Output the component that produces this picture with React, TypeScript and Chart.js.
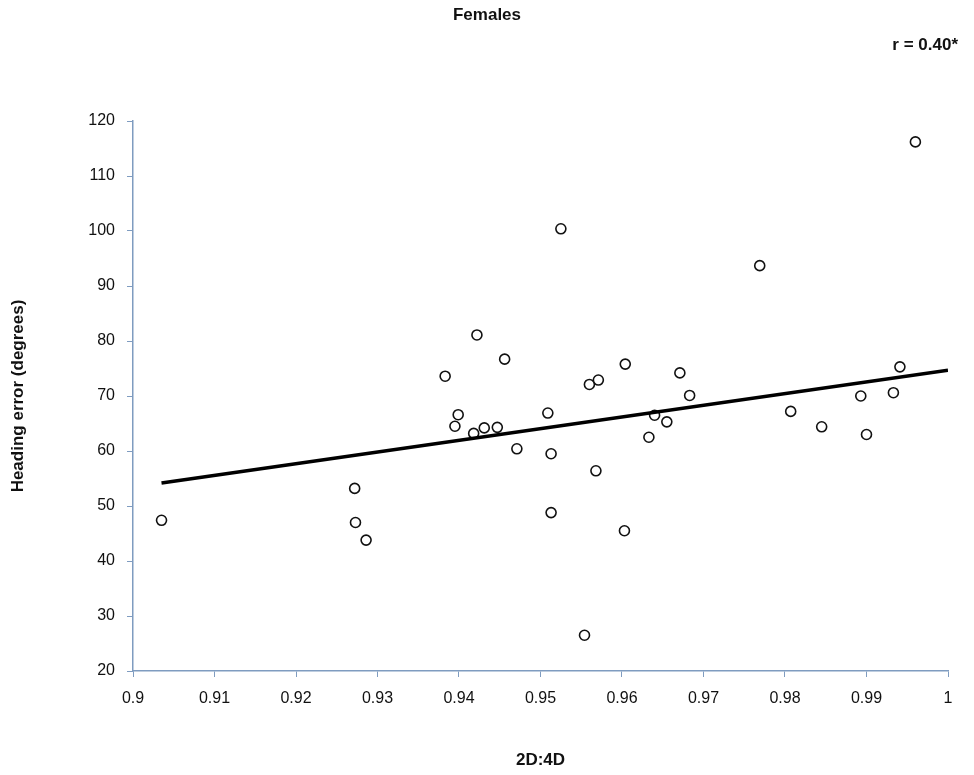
import { useEffect, useRef } from 'react';
import Chart from 'chart.js/auto';

const ratio = [0.9035, 0.9272, 0.9273, 0.9286, 0.9383, 0.9422, 0.9456, 0.9399, 0.9395, 0.9418, 0.9431, 0.9447, 0.9471,
    0.9525, 0.9769, 0.9509, 0.9513, 0.9513, 0.9554, 0.956, 0.9571, 0.9568, 0.9604, 0.9603, 0.964, 0.9633, 0.9655,
    0.9671, 0.9683, 0.9807, 0.9845, 0.9893, 0.99, 0.9933, 0.9941, 0.996];
const headingError = [47.4, 53.2, 47.0, 43.8, 73.6, 81.1, 76.7, 66.6, 64.5, 63.2, 64.2, 64.3, 60.4,
    100.4, 93.7, 66.9, 59.5, 48.8, 26.5, 72.1, 72.9, 56.4, 75.8, 45.5, 66.5, 62.5, 65.3,
    74.2, 70.1, 67.2, 64.4, 70.0, 63.0, 70.6, 75.3, 116.2];
const trendX = [0.9035, 1.0];
const trendY = [54.2, 74.7];

const axisColor = '#7f9cc0';
const font = 'Liberation Sans, Arial, sans-serif';

const App = () => {
    const chartRef = useRef<HTMLCanvasElement | null>(null);

    useEffect(() => {
        if (!chartRef.current) return;
        const textPlugin = {
            id: 'texts',
            afterDraw(chart: Chart) {
                const ctx = chart.ctx;
                ctx.save();
                ctx.fillStyle = '#111';
                ctx.font = `bold 17px ${font}`;
                ctx.textAlign = 'center';
                ctx.textBaseline = 'middle';
                ctx.fillText('Females', 487, 15);
                ctx.textAlign = 'right';
                ctx.fillText('r = 0.40*', 958, 45);
                ctx.restore();
            },
        };
        const chart = new Chart(chartRef.current, {
            type: 'scatter',
            data: {
                datasets: [
                    {
                        type: 'line',
                        data: trendX.map((x, i) => ({ x, y: trendY[i] })),
                        borderColor: '#000',
                        borderWidth: 3.5,
                        pointRadius: 0,
                    },
                    {
                        data: ratio.map((x, i) => ({ x, y: headingError[i] })),
                        backgroundColor: '#fff',
                        borderColor: '#111',
                        borderWidth: 1.6,
                        pointRadius: 5,
                    },
                ],
            },
            options: {
                animation: false,
                responsive: false,
                layout: { padding: { top: 121, right: 26, left: 4, bottom: 0 } },
                plugins: { legend: { display: false }, tooltip: { enabled: false } },
                scales: {
                    x: {
                        type: 'linear',
                        min: 0.9,
                        max: 1,
                        afterFit: (s: any) => { s.height = 104; },
                        ticks: {
                            stepSize: 0.01,
                            padding: 12,
                            color: '#111',
                            font: { size: 16, family: font },
                            callback: (v: any) => String(Math.round(Number(v) * 100) / 100),
                        },
                        grid: { drawOnChartArea: false, drawTicks: true, tickLength: 6, color: axisColor },
                        border: { color: axisColor, width: 1.5 },
                        title: { display: true, text: '2D:4D', color: '#111', font: { size: 17, weight: 'bold', family: font } },
                    },
                    y: {
                        min: 20,
                        max: 120,
                        afterFit: (s: any) => { s.width = 129; },
                        ticks: { stepSize: 10, padding: 12, color: '#111', font: { size: 16, family: font } },
                        grid: { drawOnChartArea: false, drawTicks: true, tickLength: 6, color: axisColor },
                        border: { color: axisColor, width: 1.5 },
                        title: { display: true, text: 'Heading error (degrees)', color: '#111', font: { size: 17, weight: 'bold', family: font } },
                    },
                },
            },
            plugins: [textPlugin],
        });
        return () => chart.destroy();
    }, []);

    return (
        <div style={{ position: 'absolute', left: 0, top: 0, width: 974, height: 775, background: '#fff' }}>
            <canvas ref={chartRef} width={974} height={775}></canvas>
        </div>
    );
};

export default App;
